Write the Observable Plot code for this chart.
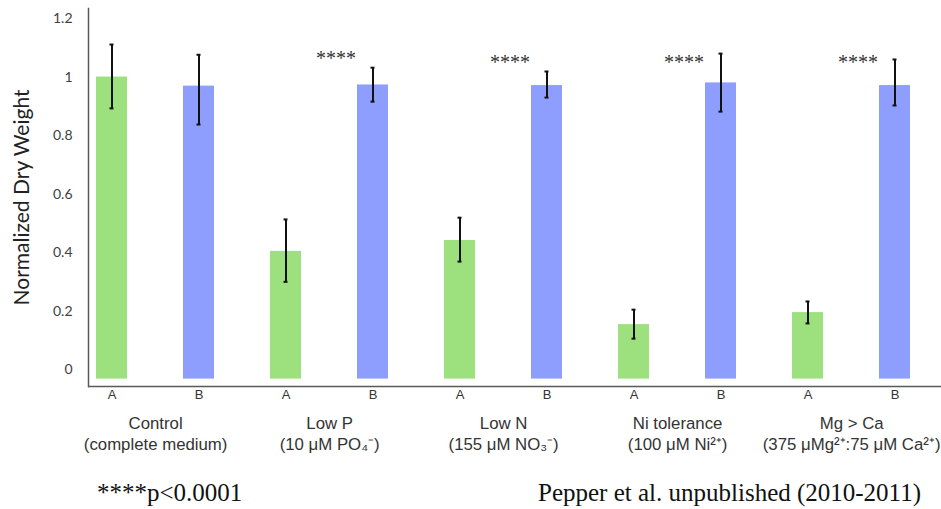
<!DOCTYPE html>
<html><head><meta charset="utf-8">
<script src="https://cdn.jsdelivr.net/npm/d3@7"></script>
<script src="https://cdn.jsdelivr.net/npm/@observablehq/plot@0.6"></script>
<style>
body{margin:0;background:#fff;}
#wrap{position:relative;width:941px;height:509px;overflow:hidden;}
.foot{position:absolute;top:478px;font-family:"Liberation Serif","Times New Roman",serif;font-size:25px;color:#111;white-space:nowrap;line-height:30px;}
</style></head><body><div id="wrap"></div>
<script>
// ---- data ----
const groups = ["Control", "Low P", "Low N", "Ni tolerance", "Mg > Ca"];
const groupSubtitles = ["(complete medium)", "(10 μM PO₄⁻)", "(155 μM NO₃⁻)", "(100 μM Ni²⁺)", "(375 μMg²⁺:75 μM Ca²⁺)"];
const letters = ["A", "B"];
const valuesA = [1.0, 0.405, 0.442, 0.155, 0.196];
const valuesB = [0.969, 0.973, 0.971, 0.980, 0.971];
const errLowA = [0.893, 0.301, 0.370, 0.107, 0.159];
const errHighA = [1.111, 0.514, 0.520, 0.206, 0.234];
const errLowB = [0.838, 0.916, 0.930, 0.882, 0.903];
const errHighB = [1.076, 1.032, 1.019, 1.080, 1.060];
const significance = ["", "****", "****", "****", "****"];
const starLevel = [null, 1.08, 1.066, 1.066, 1.066];
const yTicks = [0, 0.2, 0.4, 0.6, 0.8, 1, 1.2];
const yLabel = "Normalized Dry Weight";
const footLeft = "****p<0.0001";
const footRight = "Pepper et al. unpublished (2010-2011)";

// ---- layout / style ----
const W = 941, H = 465;
const green = "#9de17e", blue = "#8d9eff";
const yDomain = [-0.0563, 1.234];
const barBase = -0.031;
const xRange = [66.6, 939.2];
const step = (xRange[1] - xRange[0]) / 10;

const rows = [];
groups.forEach((g, i) => {
  rows.push({key: g + "|A", letter: "A", value: valuesA[i], lo: errLowA[i], hi: errHighA[i]});
  rows.push({key: g + "|B", letter: "B", value: valuesB[i], lo: errLowB[i], hi: errHighB[i]});
});
const groupRows = groups.map((g, i) => ({g, sub: groupSubtitles[i]}));
const starRows = groups.map((g, i) => ({g, sig: significance[i], level: starLevel[i]})).filter(d => d.sig);

const chart = Plot.plot({
  width: W, height: H,
  marginTop: 8, marginBottom: H - 386, marginLeft: 88, marginRight: 0,
  style: {fontFamily: "Lato, sans-serif", background: "#fff"},
  x: {domain: rows.map(d => d.key), range: xRange, paddingInner: 0.645, paddingOuter: 0.3225, axis: null},
  y: {domain: yDomain, axis: null},
  color: {domain: letters, range: [green, blue]},
  marks: [
    Plot.barY(rows, {x: "key", y1: barBase, y2: "value", fill: "letter"}),
    Plot.ruleX(rows, {x: "key", y1: "lo", y2: "hi", stroke: "#111", strokeWidth: 2}),
    Plot.tickY(rows, {x: "key", y: "lo", stroke: "#111", strokeWidth: 2, insetLeft: 13.5, insetRight: 13.5}),
    Plot.tickY(rows, {x: "key", y: "hi", stroke: "#111", strokeWidth: 2, insetLeft: 13.5, insetRight: 13.5}),
    Plot.text(starRows, {x: d => d.g + "|B", y: "level", text: "sig", dx: -37, dy: 5, fontFamily: "Liberation Serif, serif", fontSize: 20, fill: "#333"}),
    Plot.axisY(yTicks, {tickSize: 0, tickPadding: 16, tickFormat: d3.format("~g"), fontSize: 14, fontFamily: "Lato, sans-serif", color: "#404040", label: null}),
    Plot.axisX({tickSize: 0, tickPadding: 3, tickFormat: k => k.split("|")[1], fontSize: 13, fontFamily: "Liberation Sans, Arial, sans-serif", color: "#333", label: null}),
    Plot.text(groupRows, {x: d => d.g + "|A", text: d => d.g + "\n" + d.sub, frameAnchor: "bottom", lineAnchor: "top", dx: step / 2, dy: 28, lineHeight: 1.22, fontSize: 16.8, fontFamily: "Liberation Sans, Arial, sans-serif", fill: "#333"}),
    Plot.text([yLabel], {frameAnchor: "left", textAnchor: "middle", dx: -66, rotate: -90, fontSize: 21, fontFamily: "Lato, sans-serif", fill: "#222"}),
    Plot.ruleY([yDomain[0]], {stroke: "#595959", strokeWidth: 1.5}),
    Plot.frame({anchor: "left", stroke: "#595959", strokeWidth: 1.5})
  ]
});
const wrap = document.getElementById("wrap");
wrap.appendChild(chart);
const f1 = document.createElement("div"); f1.className = "foot"; f1.style.left = "97px"; f1.textContent = footLeft; wrap.appendChild(f1);
const f2 = document.createElement("div"); f2.className = "foot"; f2.style.left = "538px"; f2.textContent = footRight; wrap.appendChild(f2);
</script></body></html>
